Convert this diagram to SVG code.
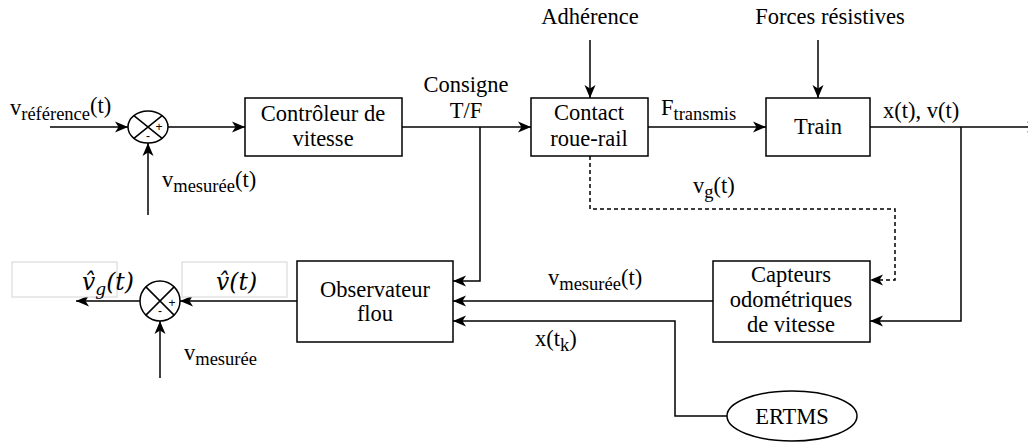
<svg xmlns="http://www.w3.org/2000/svg" width="1028" height="444" viewBox="0 0 1028 444">
<defs>
<marker id="arr" markerUnits="userSpaceOnUse" markerWidth="14" markerHeight="12" refX="13" refY="6" orient="auto">
<path d="M0,0.5 L13,6 L0,11.5 L3.5,6 Z" fill="#000"/>
</marker>
<style>
text{font-family:'Liberation Serif','Times New Roman',serif}
.t{font-size:22.5px;fill:#000}
.c{text-anchor:middle}
.s{font-size:18.5px}
.m{font-family:'DejaVu Serif','Liberation Serif',serif;font-style:italic;font-size:23.5px;fill:#000}
.sg{font-family:'Liberation Sans',Arial,sans-serif;font-size:12px;fill:#000;text-anchor:middle}
.box{fill:#fff;stroke:#000;stroke-width:1.5}
.gbox{fill:#fff;stroke:#d4d4d4;stroke-width:1}
.ln{fill:none;stroke:#000;stroke-width:1.5}
.da{fill:none;stroke:#000;stroke-width:1.5;stroke-dasharray:4,3}
</style>
</defs>
<rect width="1028" height="444" fill="#fff"/>

<g id="connectors">
<path class="ln" d="M50,127 H128" marker-end="url(#arr)"/>
<path class="ln" d="M148,215 V143" marker-end="url(#arr)"/>
<path class="ln" d="M168,127 H245" marker-end="url(#arr)"/>
<path class="ln" d="M402,127 H531" marker-end="url(#arr)"/>
<path class="ln" d="M480,127 V281 H453" marker-end="url(#arr)"/>
<path class="ln" d="M590,40 V98" marker-end="url(#arr)"/>
<path class="ln" d="M648,127 H766" marker-end="url(#arr)"/>
<path class="ln" d="M818,40 V98" marker-end="url(#arr)"/>
<path class="ln" d="M870,127 H1040" marker-end="url(#arr)"/>
<path class="ln" d="M961,127 V321 H870" marker-end="url(#arr)"/>
<path class="da" d="M590,156 V209 H895 V280 H870" marker-end="url(#arr)"/>
<path class="ln" d="M713,301 H453" marker-end="url(#arr)"/>
<path class="ln" d="M727,416 H675 V321 H453" marker-end="url(#arr)"/>
<path class="ln" d="M297,301 H180" marker-end="url(#arr)"/>
<path class="ln" d="M140,301 H76" marker-end="url(#arr)"/>
<path class="ln" d="M160,378 V321" marker-end="url(#arr)"/>
</g>

<g id="labels">
<text class="t" x="10" y="115">v<tspan class="s" dy="5">référence</tspan><tspan dy="-7">(t)</tspan></text>
<text class="t" x="162" y="187">v<tspan class="s" dy="5">mesurée</tspan><tspan dy="-5">(t)</tspan></text>
<text class="t c" x="466" y="92">Consigne</text>
<text class="t c" x="466" y="118">T/F</text>
<text class="t c" x="590" y="24">Adhérence</text>
<text class="t" x="661" y="115">F<tspan class="s" dy="5">transmis</tspan></text>
<text class="t c" x="830" y="24">Forces résistives</text>
<text class="t" x="883" y="118">x(t), v(t)</text>
<text class="t" x="693" y="193">v<tspan class="s" dy="5">g</tspan><tspan dy="-5">(t)</tspan></text>
<text class="t" x="548" y="285">v<tspan class="s" dy="5">mesurée</tspan><tspan dy="-5">(t)</tspan></text>
<text class="t" x="535" y="346">x(t<tspan class="s" dy="5">k</tspan><tspan dy="-5">)</tspan></text>
<text class="t" x="184" y="360">v<tspan class="s" dy="5">mesurée</tspan></text>
</g>

<g id="sum1">
<ellipse cx="148" cy="127" rx="20" ry="16" fill="#fff" stroke="#000" stroke-width="1.5"/>
<path class="ln" d="M133.9,115.7 L162.1,138.3 M162.1,115.7 L133.9,138.3"/>
<text class="sg" x="159" y="131">+</text>
<text class="sg" x="148" y="140">-</text>
</g>

<g id="controleur">
<rect class="box" x="245" y="98" width="157" height="58"/>
<text class="t c" x="323" y="121">Contrôleur de</text>
<text class="t c" x="323" y="146">vitesse</text>
</g>

<g id="contact">
<rect class="box" x="531" y="98" width="117" height="58"/>
<text class="t c" x="589" y="120">Contact</text>
<text class="t c" x="589" y="146">roue-rail</text>
</g>

<g id="train">
<rect class="box" x="766" y="98" width="104" height="58"/>
<text class="t c" x="818" y="134">Train</text>
</g>

<g id="capteurs">
<rect class="box" x="713" y="261" width="157" height="81"/>
<text class="t c" x="791" y="282">Capteurs</text>
<text class="t c" x="791" y="307">odométriques</text>
<text class="t c" x="791" y="332">de vitesse</text>
</g>

<g id="observateur">
<rect class="box" x="297" y="261" width="156" height="81"/>
<text class="t c" x="375" y="297">Observateur</text>
<text class="t c" x="375" y="321">flou</text>
</g>

<g id="ertms">
<ellipse cx="792" cy="416" rx="65" ry="25" fill="#fff" stroke="#000" stroke-width="1.5"/>
<text class="t c" x="792" y="424">ERTMS</text>
</g>

<g id="vhat">
<rect class="gbox" x="182" y="262" width="105" height="35"/>
<text class="m" x="216" y="290">v̂(t)</text>
</g>

<g id="vghat">
<rect class="gbox" x="12" y="262" width="105" height="35"/>
<text class="m" x="82" y="290">v̂<tspan font-size="17" dy="5">g</tspan><tspan dy="-5">(t)</tspan></text>
</g>

<g id="sum2">
<circle cx="160" cy="301" r="20" fill="#fff" stroke="#000" stroke-width="1.5"/>
<path class="ln" d="M145.9,286.9 L174.1,315.1 M174.1,286.9 L145.9,315.1"/>
<text class="sg" x="172" y="307">+</text>
<text class="sg" x="160" y="315">-</text>
</g>
</svg>
